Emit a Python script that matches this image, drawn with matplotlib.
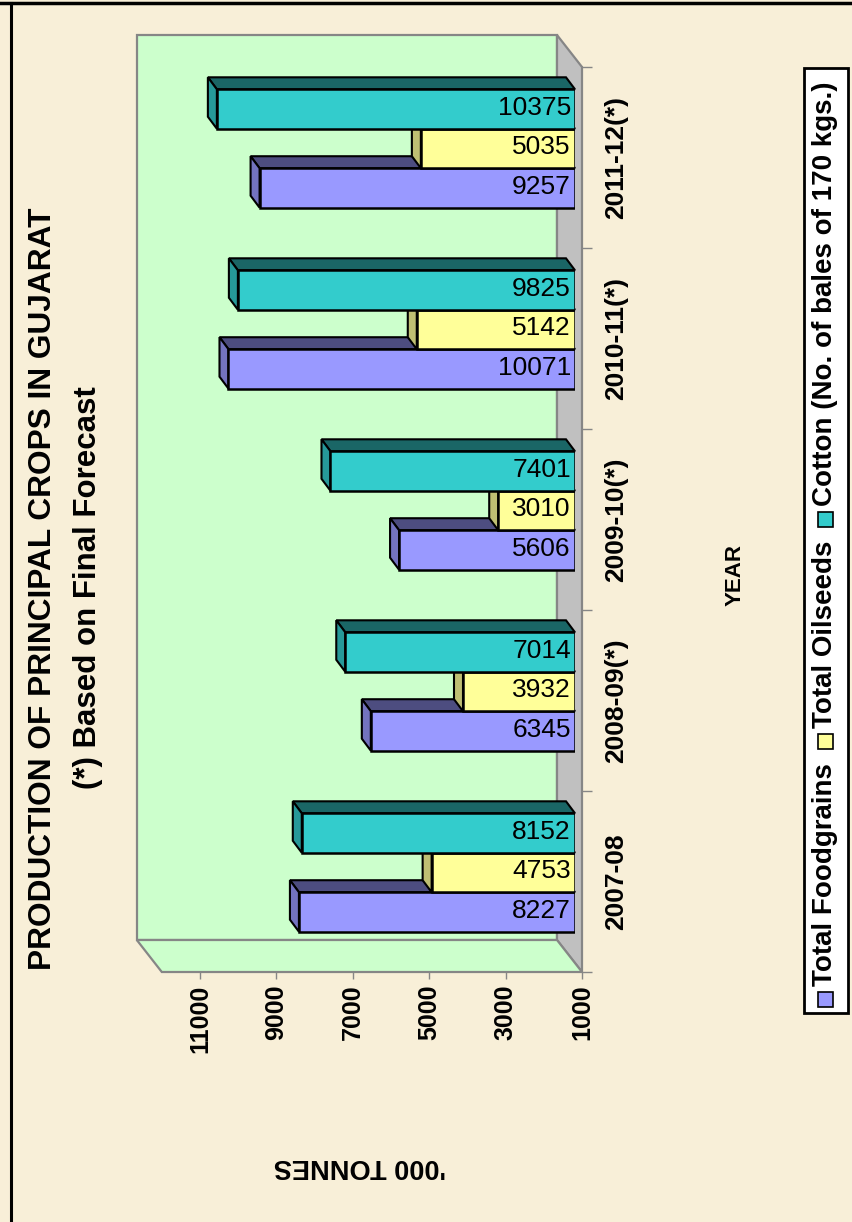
import matplotlib
matplotlib.use('Agg')
import matplotlib.pyplot as plt
from matplotlib.patches import Polygon, Rectangle
from matplotlib.lines import Line2D
import numpy as np

# ---------------- data ----------------
years = ['2007-08', '2008-09(*)', '2009-10(*)', '2010-11(*)', '2011-12(*)']
foodgrains = [8227, 6345, 5606, 10071, 9257]
oilseeds = [4753, 3932, 3010, 5142, 5035]
cotton = [8152, 7014, 7401, 9825, 10375]
series_names = ['Total Foodgrains', 'Total Oilseeds', 'Cotton (No. of bales of 170 kgs.)']
value_ticks = [1000, 3000, 5000, 7000, 9000, 11000]
value_min, value_max = 1000, 12000

title = 'PRODUCTION OF PRINCIPAL CROPS IN GUJARAT'
subtitle = '(*) Based on Final Forecast'
cat_title = 'YEAR'
val_title = "'000 TONNES"

# ---------------- style ----------------
plt.rcParams['font.family'] = ['Liberation Sans', 'DejaVu Sans']
fronts = ['#9999FF', '#FFFF99', '#33CCCC']
tops = ['#4D4D80', '#80804D', '#1A6666']
sides = ['#7373BF', '#BFBF73', '#269999']
WALL = '#CCFFCC'
FLOOR = '#C0C0C0'
EDGE = '#868686'

W, H = 852, 1222
fig = plt.figure(figsize=(W / 100, H / 100), dpi=100)
fig.patch.set_facecolor('#F8EFD8')


def fx(px):
    return px / W


def fy(py):
    return 1 - py / H


def box(l, t, r, b):
    return [fx(l), fy(b), fx(r) - fx(l), fy(t) - fy(b)]


# bar plane axes and front plane axes (for ticks)
ax = fig.add_axes(box(154.8, 58, 575, 963))
axf = fig.add_axes(box(161.8, 67, 582, 972))
n = len(years)
for a in (ax, axf):
    a.set_xlim(value_max, value_min)
    a.set_ylim(-0.5, n - 0.5)
ax.set_axis_off()
ax.set_zorder(2)
axf.set_zorder(1)

BACK = (-18, -23)     # pixel offset (right, down) of back wall from bar plane
FRONT = (7, 9)
BAR_DEPTH = (-9, -12)


def shift(points, d):
    pts = np.asarray(points, dtype=float)
    disp = ax.transData.transform(pts)
    disp[:, 0] += d[0]
    disp[:, 1] -= d[1]
    return ax.transData.inverted().transform(disp)


def poly(pts, fc, ec, lw, z):
    p = Polygon(pts, closed=True, facecolor=fc, edgecolor=ec, lw=lw,
                zorder=z, clip_on=False, joinstyle='miter')
    ax.add_patch(p)


lo, hi = -0.5, n - 0.5
# back wall
poly(shift([[value_min, lo], [value_max, lo], [value_max, hi], [value_min, hi]], BACK),
     WALL, EDGE, 1.6, 0.5)
# floor (right side)
poly(np.vstack([shift([[value_min, hi]], BACK), shift([[value_min, hi], [value_min, lo]], FRONT),
                shift([[value_min, lo]], BACK)]), FLOOR, EDGE, 1.6, 0.6)
# bottom side wall
poly(np.vstack([shift([[value_max, lo], [value_min, lo]], BACK),
                shift([[value_min, lo], [value_max, lo]], FRONT)]), WALL, EDGE, 1.6, 0.6)

# ---------------- bars ----------------
ypos = np.arange(n)
bh = 0.218
offsets = [-bh, 0.0, bh]
series = [foodgrains, oilseeds, cotton]
for s, vals in enumerate(series):
    yc = ypos + offsets[s]
    for y, v in zip(yc, vals):
        t, b = y + bh / 2, y - bh / 2
        topface = np.vstack([[[value_min, t], [v, t]], shift([[v, t], [value_min, t]], BAR_DEPTH)])
        sideface = np.vstack([[[v, b], [v, t]], shift([[v, t], [v, b]], BAR_DEPTH)])
        poly(topface, tops[s], 'black', 1.5, 3 + 2 * s)
        poly(sideface, sides[s], 'black', 1.5, 3 + 2 * s)
    ax.barh(yc, np.array(vals) - value_min, left=value_min, height=bh,
            color=fronts[s], edgecolor='black', lw=1.8, zorder=4 + 2 * s)
    for y, v in zip(yc, vals):
        ax.annotate(f'{v}', xy=(value_min, y), xytext=(-3, 1), textcoords='offset points',
                    ha='right', va='center', fontsize=19, zorder=20)

# ---------------- axes ticks (front plane) ----------------
axf.patch.set_visible(False)
axf.set_xticks(value_ticks)
axf.set_xticklabels([str(v) for v in value_ticks], rotation=90, fontweight='bold', fontsize=18)
axf.tick_params(axis='x', direction='out', length=5, width=1, color=EDGE, pad=4)
axf.yaxis.tick_right()
axf.set_yticks(ypos)
axf.set_yticklabels(years, rotation=90, fontweight='bold', fontsize=19, va='center')
axf.set_yticks(np.arange(n + 1) - 0.5, minor=True)
axf.tick_params(axis='y', which='major', length=0, pad=16)
axf.tick_params(axis='y', which='minor', direction='out', length=7, width=1, color=EDGE,
                right=True, left=False)
for sp in ['left', 'top']:
    axf.spines[sp].set_visible(False)
for sp in ['bottom', 'right']:
    axf.spines[sp].set_color(EDGE)
    axf.spines[sp].set_linewidth(1.2)

# ---------------- texts ----------------
fig.text(fx(43), fy(589), title, rotation=90, ha='center', va='center',
         fontsize=22.8, fontweight='bold')
fig.text(fx(88), fy(588), subtitle, rotation=90, ha='center', va='center',
         fontsize=22.5, fontweight='bold')
fig.text(fx(735), fy(575), cat_title, rotation=90, ha='center', va='center',
         fontsize=16, fontweight='bold')
fig.text(fx(360), fy(1166), val_title, rotation=180, ha='center', va='center',
         fontsize=19.5, fontweight='bold')

# ---------------- legend ----------------
leg_l, leg_t, leg_r, leg_b = 804, 68, 848, 1013
fig.add_artist(Rectangle((fx(leg_l), fy(leg_b)), fx(leg_r) - fx(leg_l), fy(leg_t) - fy(leg_b),
                         transform=fig.transFigure, facecolor='white', edgecolor='black', lw=2))
renderer = fig.canvas.get_renderer()
cy = leg_b - 6
xc = 825
msz = 15
for name, col in zip(series_names, fronts):
    fig.add_artist(Rectangle((fx(xc - msz / 2), fy(cy)), msz / W, msz / H,
                             transform=fig.transFigure, facecolor=col, edgecolor='black', lw=1.2))
    cy -= msz + 6
    txt = fig.text(fx(xc), fy(cy), name, rotation=90, ha='center', va='bottom',
                   fontsize=20, fontweight='bold')
    bb = txt.get_window_extent(renderer)
    cy -= bb.height + 14

# ---------------- frame lines ----------------
fig.add_artist(Line2D([0, 1], [fy(3), fy(3)], transform=fig.transFigure, color='black', lw=2.5))
fig.add_artist(Line2D([fx(11), fx(11)], [fy(3), 0], transform=fig.transFigure, color='black', lw=2.2))

fig.savefig('out.png', dpi=100, facecolor=fig.get_facecolor())
